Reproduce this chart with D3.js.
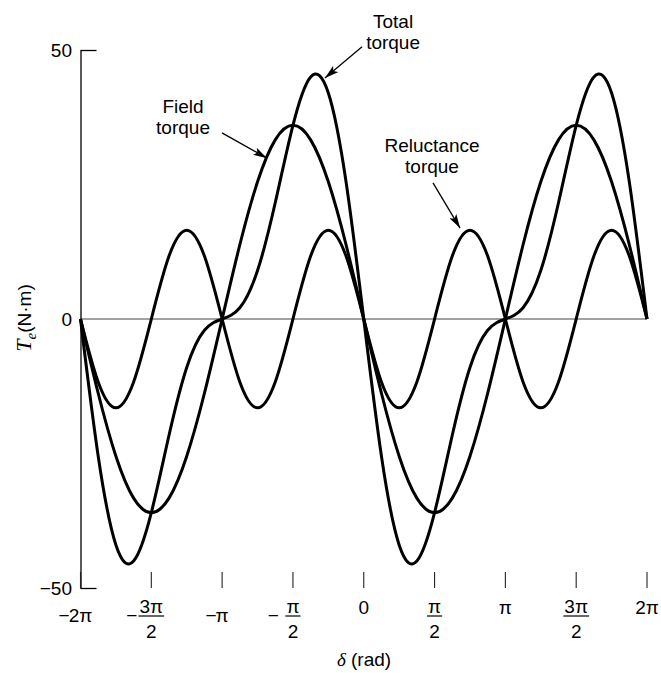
<!DOCTYPE html>
<html>
<head>
<meta charset="utf-8">
<script src="https://cdn.jsdelivr.net/npm/d3@7"></script>
<style>
  html, body { margin: 0; padding: 0; background: #fff; }
  svg { display: block; font-family: "Liberation Sans", Arial, Helvetica, sans-serif; }
</style>
</head>
<body>
<svg id="chart" width="661" height="673"></svg>
<script>
// Load angle δ, in multiples of π/8, from −2π to 2π
const deltaEighths = [-16, -15, -14, -13, -12, -11, -10, -9, -8, -7, -6, -5, -4, -3, -2, -1,
  0, 1, 2, 3, 4, 5, 6, 7, 8, 9, 10, 11, 12, 13, 14, 15, 16];

// Torque components (N·m)
const fieldTorque = [0, -13.8, -25.5, -33.3, -36, -33.3, -25.5, -13.8, 0, 13.8, 25.5, 33.3, 36, 33.3, 25.5, 13.8,
  0, -13.8, -25.5, -33.3, -36, -33.3, -25.5, -13.8, 0, 13.8, 25.5, 33.3, 36, 33.3, 25.5, 13.8, 0];
const reluctanceTorque = [0, -11.7, -16.5, -11.7, 0, 11.7, 16.5, 11.7, 0, -11.7, -16.5, -11.7, 0, 11.7, 16.5, 11.7,
  0, -11.7, -16.5, -11.7, 0, 11.7, 16.5, 11.7, 0, -11.7, -16.5, -11.7, 0, 11.7, 16.5, 11.7, 0];
const totalTorque = [0, -25.5, -42.0, -45.0, -36, -21.6, -9.0, -2.1, 0, 2.1, 9.0, 21.6, 36, 45.0, 42.0, 25.5,
  0, -25.5, -42.0, -45.0, -36, -21.6, -9.0, -2.1, 0, 2.1, 9.0, 21.6, 36, 45.0, 42.0, 25.5, 0];

// x ticks in multiples of π/2 and their labels
const xTickHalves = [-4, -3, -2, -1, 0, 1, 2, 3, 4];
const xTickLabels = ["−2π", "−3π/2", "−π", "−π/2", "0", "π/2", "π", "3π/2", "2π"];
const yTicks = [-50, 0, 50];

// Callouts: label lines, text anchor, arrow tail and tip, in (δ/π, torque) units
const calloutLabels = [["Total", "torque"], ["Field", "torque"], ["Reluctance", "torque"]];
const calloutText = [[0.207, 54.1], [-1.276, 38.3], [0.482, 31.0]];
const calloutTail = [[-0.012, 50.6], [-1.001, 34.6], [0.489, 25.3]];
const calloutTip = [[-0.274, 44.8], [-0.683, 29.9], [0.680, 16.9]];

const PI = Math.PI;
const svg = d3.select("#chart");

const x = d3.scaleLinear().domain([-2 * PI, 2 * PI]).range([80.5, 647]);
const y = d3.scaleLinear().domain([-50, 50]).range([588, 50]);

const defs = svg.append("defs");
defs.append("marker")
  .attr("id", "arrowhead")
  .attr("markerUnits", "userSpaceOnUse")
  .attr("viewBox", "0 0 14 8")
  .attr("refX", 14).attr("refY", 4)
  .attr("markerWidth", 14).attr("markerHeight", 8)
  .attr("orient", "auto")
  .append("path")
  .attr("d", "M0,0 L14,4 L0,8 L3,4 Z")
  .attr("fill", "#000");

// zero line
svg.append("line")
  .attr("x1", x(-2 * PI)).attr("x2", x(2 * PI))
  .attr("y1", y(0)).attr("y2", y(0))
  .attr("stroke", "#444").attr("stroke-width", 1.1);

// y axis: inward ticks at ±50
const yAxis = d3.axisLeft(y)
  .tickValues(yTicks)
  .tickSizeInner(-16)
  .tickSizeOuter(0)
  .tickPadding(8.5)
  .tickFormat(d3.format("d"));
const gy = svg.append("g").attr("transform", `translate(${x(-2 * PI)},0)`).call(yAxis);
gy.select(".domain").attr("stroke", "#000").attr("stroke-width", 1.3);
gy.selectAll(".tick line").attr("stroke", "#000").attr("stroke-width", 1.3)
  .attr("display", d => d === 0 ? "none" : null);
gy.selectAll(".tick text").attr("font-size", 19).attr("fill", "#000")
  .attr("font-family", "Liberation Sans, Arial, sans-serif");

// x ticks and π labels
const xg = svg.append("g");
xTickHalves.forEach((h, i) => {
  const cx = x(h * PI / 2);
  xg.append("line")
    .attr("x1", cx).attr("x2", cx)
    .attr("y1", 572).attr("y2", 588)
    .attr("stroke", "#222").attr("stroke-width", 1.1);

  let label = xTickLabels[i];
  const negative = label.startsWith("−");
  if (negative) label = label.slice(1);
  const parts = label.split("/");
  const g = xg.append("g").attr("font-size", 19).attr("fill", "#000");

  if (parts.length === 2) {
    const num = g.append("text").attr("x", cx).attr("y", 613)
      .attr("text-anchor", "middle").text(parts[0]);
    const w = num.node().getComputedTextLength();
    g.append("line")
      .attr("x1", cx - w / 2 - 1).attr("x2", cx + w / 2 + 1)
      .attr("y1", 616).attr("y2", 616)
      .attr("stroke", "#000").attr("stroke-width", 1.2);
    g.append("text").attr("x", cx).attr("y", 638)
      .attr("text-anchor", "middle").text(parts[1]);
    if (negative) {
      g.append("text").attr("x", cx - 14).attr("y", 622)
        .attr("text-anchor", "end").text("−");
    }
  } else if (negative) {
    const body = g.append("text").attr("x", cx).attr("y", 622)
      .attr("text-anchor", "middle").text(parts[0]);
    const w = body.node().getComputedTextLength();
    g.append("text").attr("x", cx - w / 2 + 1).attr("y", 622)
      .attr("text-anchor", "end").text("−");
  } else {
    g.append("text").attr("x", cx).attr("y", 614)
      .attr("text-anchor", "middle").text(parts[0]);
  }
});

// axis titles
svg.append("text")
  .attr("x", 364).attr("y", 666)
  .attr("text-anchor", "middle")
  .attr("font-size", 19)
  .call(t => {
    t.append("tspan").attr("font-family", "Liberation Serif, serif").attr("font-style", "italic").text("δ");
    t.append("tspan").text(" (rad)");
  });

svg.append("text")
  .attr("transform", "translate(31,318) rotate(-90)")
  .attr("text-anchor", "middle")
  .attr("font-size", 19)
  .call(t => {
    t.append("tspan").attr("font-family", "Liberation Serif, serif").attr("font-style", "italic")
      .attr("font-size", 22).text("T");
    t.append("tspan").attr("font-family", "Liberation Serif, serif").attr("font-style", "italic")
      .attr("font-size", 15).attr("dy", 5).text("e");
    t.append("tspan").attr("dy", -5).text("(N·m)");
  });

// torque curves
const series = [fieldTorque, reluctanceTorque, totalTorque];
const line = d3.line()
  .x((d, i) => x(deltaEighths[i] * PI / 8))
  .y(d => y(d))
  .curve(d3.curveNatural);

svg.append("g").selectAll("path")
  .data(series)
  .join("path")
  .attr("d", line)
  .attr("fill", "none")
  .attr("stroke", "#000")
  .attr("stroke-width", 3)
  .attr("stroke-linejoin", "round");

// callouts
calloutLabels.forEach((lines, i) => {
  const tx = x(calloutText[i][0] * PI), ty = y(calloutText[i][1]);
  const t = svg.append("text").attr("text-anchor", "middle").attr("font-size", 19).attr("fill", "#000");
  lines.forEach((s, j) => t.append("tspan").attr("x", tx).attr("y", ty + j * 21).text(s));
  svg.append("line")
    .attr("x1", x(calloutTail[i][0] * PI)).attr("y1", y(calloutTail[i][1]))
    .attr("x2", x(calloutTip[i][0] * PI)).attr("y2", y(calloutTip[i][1]))
    .attr("stroke", "#000").attr("stroke-width", 1.3)
    .attr("marker-end", "url(#arrowhead)");
});
</script>
</body>
</html>
